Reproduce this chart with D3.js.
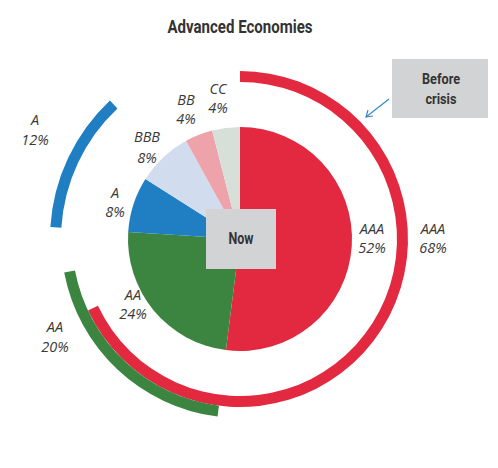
<!DOCTYPE html>
<html>
<head>
<meta charset="utf-8">
<script src="https://cdn.jsdelivr.net/npm/d3@7/dist/d3.min.js"></script>
<style>
  html, body { margin: 0; padding: 0; background: #fff; }
  svg { display: block; }
  .narrow { font-family: "Liberation Sans Narrow", "Roboto", "Liberation Sans", sans-serif; font-weight: bold; fill: #333; }
  .lbl { font-family: "Open Sans", "Noto Sans", sans-serif; font-style: italic; font-size: 14.5px; fill: #3a3a3a; }
</style>
</head>
<body>
<svg id="chart" width="498" height="468"></svg>
<script>
// ---- data ----
const title = "Advanced Economies";
const categories = ["AAA", "AA", "A", "BBB", "BB", "CC"];
const nowShares = [52, 24, 8, 8, 4, 4];          // inner pie ("Now")
const beforeCategories = ["AAA", "AA", "A"];
const beforeShares = [68, 20, 12];                // outer rings ("Before crisis")
const colors = ["#e2293f", "#3c8540", "#1f7fc2", "#d1dcee", "#eea3aa", "#d6dfd8"];

// ---- layout ----
const svg = d3.select("#chart");
const cx = 240, cy = 239;
const pieR = 112;

function narrowText(sel, x, y, size, len, str) {
  return sel.append("text").attr("class", "narrow")
    .attr("x", x).attr("y", y).attr("text-anchor", "middle")
    .attr("font-size", size)
    .attr("textLength", len).attr("lengthAdjust", "spacingAndGlyphs")
    .text(str);
}

narrowText(svg, 240, 33, 18, 145, title);

const g = svg.append("g").attr("transform", `translate(${cx},${cy})`);

const pie = d3.pie().sort(null).value(d => d.v);
const nowData = pie(categories.map((c, i) => ({ c, v: nowShares[i] })));
const arcPie = d3.arc().innerRadius(0).outerRadius(pieR);

g.selectAll("path.now").data(nowData).enter().append("path")
  .attr("class", "now")
  .attr("d", arcPie)
  .attr("fill", (d, i) => colors[i]);

// outer "before" rings: each starts where its category starts in the "now" pie
const ringR = d3.scaleLinear().domain([0, 1]).range([157, 168]);
const angle = d3.scaleLinear().domain([0, 100]).range([0, 2 * Math.PI]);
const beforeData = beforeCategories.map((c, i) => {
  const k = categories.indexOf(c);
  const s = nowData[k].startAngle;
  return { c, k, i, startAngle: s, endAngle: s + angle(beforeShares[i]) };
});
const arcRing = d3.arc()
  .innerRadius(d => ringR(d.i))
  .outerRadius(d => ringR(d.i + 1));
g.selectAll("path.before").data(beforeData).enter().append("path")
  .attr("class", "before")
  .attr("d", arcRing)
  .attr("fill", d => colors[d.k]);

// ---- labels ----
const nowLabelPos = [[372, 234], [133, 300], [115, 198], [147, 142], [186, 105], [218, 94]];
const nowLabelGap = [19, 19, 19, 21, 19, 19];
categories.forEach((c, i) => {
  const [x, y] = nowLabelPos[i];
  const t = svg.append("text").attr("class", "lbl").attr("text-anchor", "middle");
  t.append("tspan").attr("x", x).attr("y", y).text(c);
  t.append("tspan").attr("x", x).attr("y", y + nowLabelGap[i]).text(nowShares[i] + "%");
});
const beforeLabelPos = [[433, 234], [55, 332], [35, 125]];
const beforeLabelGap = [19, 20, 20];
beforeCategories.forEach((c, i) => {
  const [x, y] = beforeLabelPos[i];
  const t = svg.append("text").attr("class", "lbl").attr("text-anchor", "middle");
  t.append("tspan").attr("x", x).attr("y", y).text(c);
  t.append("tspan").attr("x", x).attr("y", y + beforeLabelGap[i]).text(beforeShares[i] + "%");
});

// "Now" box
svg.append("rect").attr("x", 206).attr("y", 209).attr("width", 70).attr("height", 60).attr("fill", "#d2d3d5");
narrowText(svg, 241, 244, 16, 25, "Now");

// "Before crisis" box
svg.append("rect").attr("x", 392).attr("y", 59).attr("width", 96).attr("height", 59).attr("fill", "#d2d3d5");
narrowText(svg, 441, 84, 15.5, 38, "Before");
narrowText(svg, 441, 104, 15.5, 31, "crisis");

// arrow
svg.append("line").attr("x1", 389).attr("y1", 99).attr("x2", 366).attr("y2", 117)
  .attr("stroke", "#3a87c8").attr("stroke-width", 1.2);
svg.append("path").attr("d", "M373,116 L366,117 L368,110")
  .attr("fill", "none").attr("stroke", "#3a87c8").attr("stroke-width", 1.2);
</script>
</body>
</html>
